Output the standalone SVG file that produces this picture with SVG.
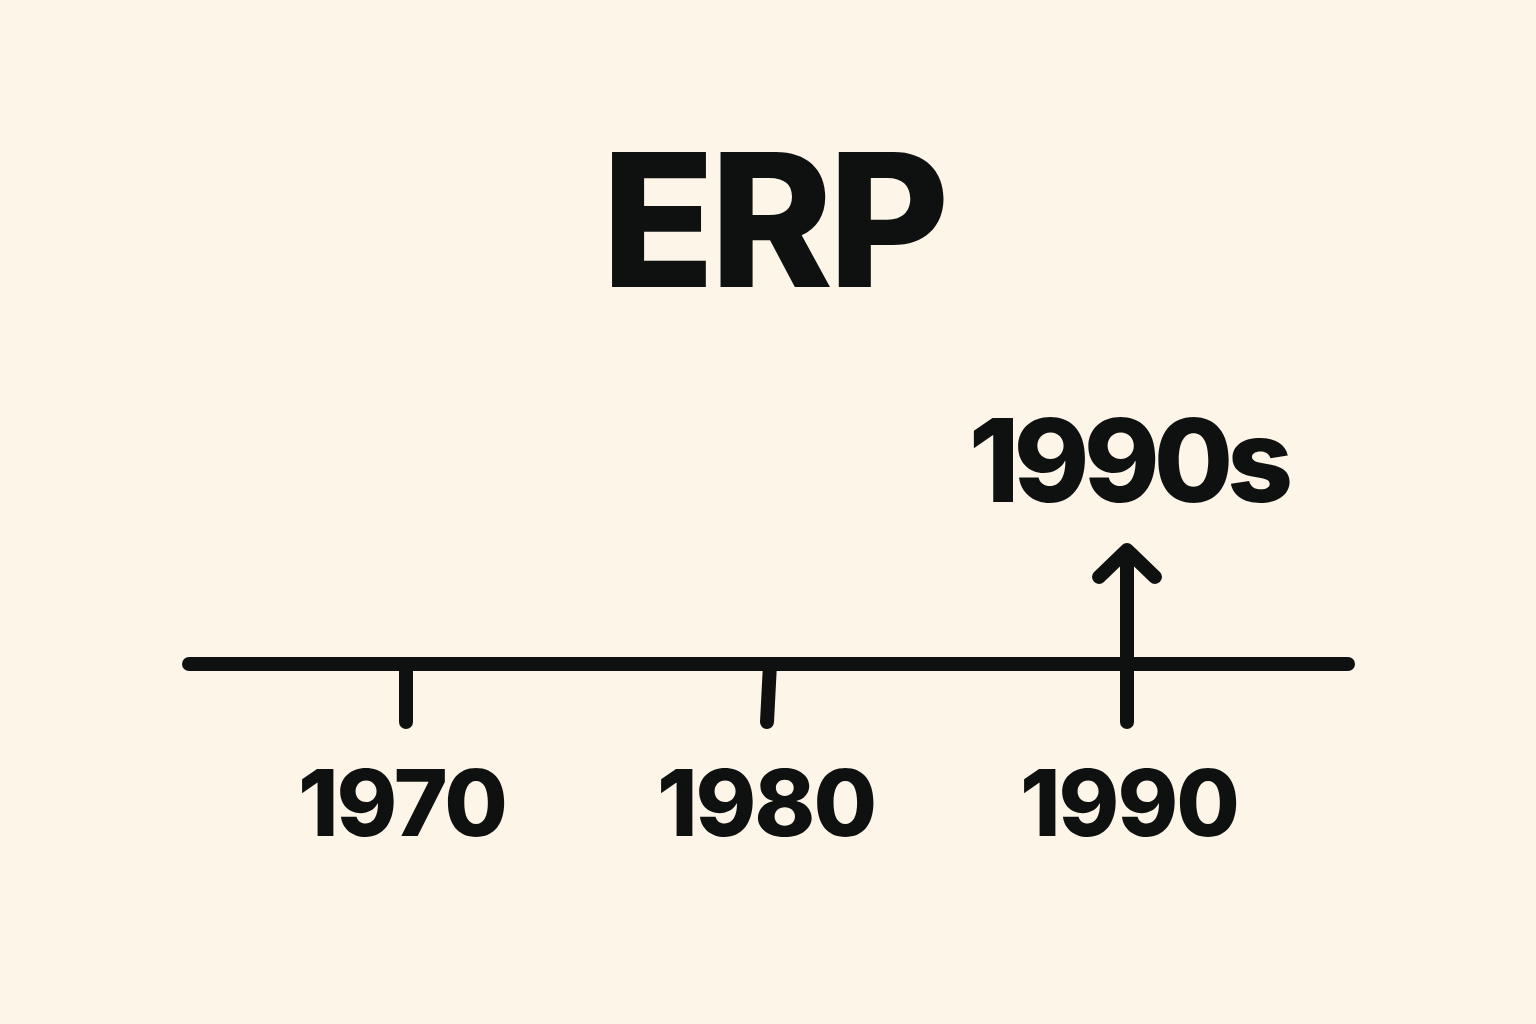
<svg xmlns="http://www.w3.org/2000/svg" width="1536" height="1024" viewBox="0 0 1536 1024">
<style>
.t{font-family:Inter,"Liberation Sans",sans-serif;font-weight:800;fill:#0e1110;text-anchor:middle}
.ln{stroke:#0e1110;stroke-width:14;stroke-linecap:round;stroke-linejoin:round;fill:none}
</style>
<rect width="1536" height="1024" fill="#fdf5e7"/>
<g id="title"><text class="t" x="773" y="287" font-size="186" letter-spacing="-5">ERP</text></g>
<g id="connectors">
<line class="ln" x1="189" y1="664" x2="1348" y2="664"/>
<line class="ln" x1="406" y1="664" x2="406" y2="722"/>
<line class="ln" x1="770" y1="664" x2="767" y2="722"/>
<line class="ln" x1="1127" y1="552" x2="1127" y2="722"/>
<polyline class="ln" points="1099,577 1127,550 1155,577"/>
</g>
<g id="label-1990s"><text class="t" x="1128" y="502" font-size="115" letter-spacing="-6">1990s</text></g>
<g id="label-1970"><text class="t" x="402" y="836" font-size="92" letter-spacing="-2">1970</text></g>
<g id="label-1980"><text class="t" x="766" y="836" font-size="92" letter-spacing="-2">1980</text></g>
<g id="label-1990"><text class="t" x="1129" y="836" font-size="92" letter-spacing="-2">1990</text></g>
</svg>
